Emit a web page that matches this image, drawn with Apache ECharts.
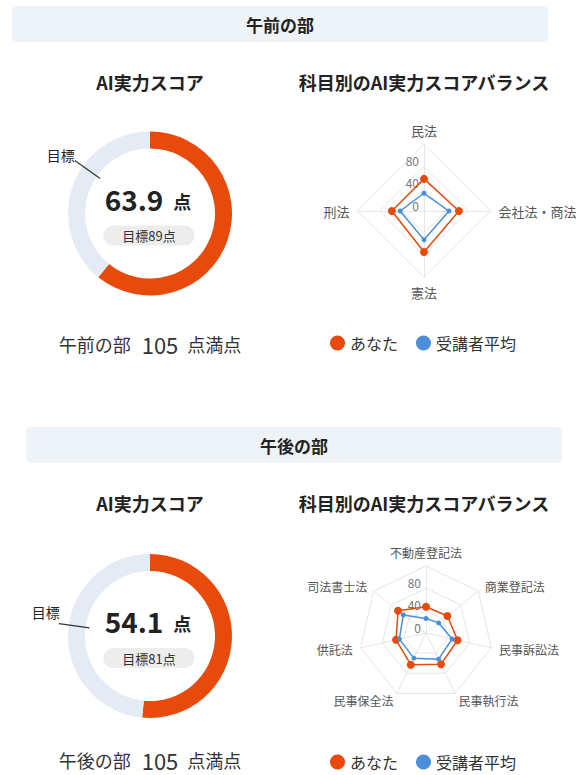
<!DOCTYPE html>
<html><head><meta charset="utf-8">
<script src="https://cdn.jsdelivr.net/npm/echarts@6/dist/echarts.min.js"></script>
<style>html,body{margin:0;padding:0;background:#fff}#c{width:582px;height:775px}</style>
</head><body><div id="c"></div>
<script>
// ---- data ----
const sectionNames = ['午前の部', '午後の部'];
const fullMarks = [105, 105];
const scores = [63.9, 54.1];
const targets = [89, 81];
const subjectsAM = ['民法', '会社法・商法', '憲法', '刑法'];
const youAM = [58, 63, 74, 58];
const avgAM = [32, 45, 52, 43];
const subjectsPM = ['不動産登記法', '商業登記法', '民事訴訟法', '民事執行法', '民事保全法', '供託法', '司法書士法'];
const youPM = [47, 49, 58, 62, 63, 55, 64];
const avgPM = [26, 29, 48, 52, 50, 49, 52];
const radarMax = 120;
const seriesNames = ['あなた', '受講者平均'];
const scoreTitle = 'AI実力スコア';
const radarTitle = '科目別のAI実力スコアバランス';
const targetLabel = '目標';

// ---- style / layout ----
const FONT = '"Noto Sans CJK JP", "Noto Sans", sans-serif';
const ORANGE = '#e84a0c', BLUE = '#4a8fd8', RING = '#e4ebf4';
const layout = [
  { hx: 12, hy: 6, hh: 36, gauge: [150, 213.5], titleY: 82, bottomY: 344, radar: [424, 211], radarR: 66.5, legendTop: 330, tOff: [0, 1] },
  { hx: 26, hy: 427, hh: 36, gauge: [150, 636], titleY: 503, bottomY: 760, radar: [426, 633], radarR: 67, legendTop: 749, tOff: [1, -5] }
];
const ccw = a => [a[0]].concat(a.slice(1).reverse());

const chart = echarts.init(document.getElementById('c'), null, { renderer: 'svg', width: 582, height: 775 });

const graphic = [];
const series = [];
const polar = [], angleAxis = [], radiusAxis = [], radar = [], legend = [];
const radarSets = [[subjectsAM, youAM, avgAM], [subjectsPM, youPM, avgPM]];

layout.forEach((L, i) => {
  graphic.push({ type: 'rect', shape: { x: L.hx, y: L.hy, width: 536, height: L.hh, r: 5 }, style: { fill: '#eef3f8' }, silent: true });
  graphic.push({ type: 'text', x: L.hx + 268, y: L.hy + L.hh / 2, style: { text: sectionNames[i], fill: '#222', fontSize: 17, fontWeight: 'bold', fontFamily: FONT, align: 'center', verticalAlign: 'middle' } });
  graphic.push({ type: 'text', x: 150, y: L.titleY, style: { text: scoreTitle, fill: '#222', fontSize: 18, fontWeight: 'bold', fontFamily: FONT, align: 'center', verticalAlign: 'middle' } });
  graphic.push({ type: 'text', x: 424, y: L.titleY, style: { text: radarTitle, fill: '#222', fontSize: 18, fontWeight: 'bold', fontFamily: FONT, align: 'center', verticalAlign: 'middle' } });
  // center score
  graphic.push({ type: 'text', x: 148, y: L.gauge[1] - 15, z: 10, style: {
    text: '{a|' + scores[i].toFixed(1) + '}{b|点}', align: 'center', verticalAlign: 'middle',
    rich: { a: { fontSize: 28, fontWeight: 'bold', fontFamily: FONT, fill: '#222' }, b: { fontSize: 18, fontWeight: 'bold', fontFamily: FONT, fill: '#222', padding: [4, 0, 0, 10] } } } });
  graphic.push({ type: 'text', x: 149, y: L.gauge[1] + 22, z: 10, style: {
    text: targetLabel + targets[i] + '点', fill: '#333', fontSize: 13, fontFamily: FONT, align: 'center', verticalAlign: 'middle',
    backgroundColor: '#ededed', borderRadius: 11, padding: [4, 19, 3, 19] } });
  // bottom text
  graphic.push({ type: 'text', x: 150, y: L.bottomY, style: {
    text: '{a|' + sectionNames[i] + '}{b|' + fullMarks[i] + '}{a|点満点}', align: 'center', verticalAlign: 'middle',
    rich: { a: { fontSize: 18, lineHeight: 20, fontFamily: FONT, fill: '#333' }, b: { fontSize: 22, lineHeight: 20, fontFamily: FONT, fill: '#333', padding: [0, 9, 0, 11] } } } });

  // donut
  series.push({ type: 'pie', center: L.gauge, radius: [65, 82], startAngle: 90, clockwise: true, silent: true, animation: false,
    label: { show: false }, labelLine: { show: false }, emphasis: { disabled: true },
    itemStyle: { borderWidth: 0 },
    data: [{ value: scores[i], itemStyle: { color: ORANGE } }, { value: fullMarks[i] - scores[i], itemStyle: { color: RING } }] });

  // target marker in polar coords
  polar.push({ center: L.gauge, radius: 100 });
  angleAxis.push({ polarIndex: i, type: 'value', min: 0, max: fullMarks[i], startAngle: 90, clockwise: true, show: false });
  radiusAxis.push({ polarIndex: i, type: 'value', min: 0, max: 100, show: false });
  series.push({ type: 'line', coordinateSystem: 'polar', polarIndex: i, silent: true, animation: false, z: 5,
    symbol: 'circle', symbolSize: 1, itemStyle: { color: 'rgba(0,0,0,0)' },
    lineStyle: { color: '#333', width: 1.2 },
    data: [[61, targets[i]], { value: [92, targets[i]], label: { show: true, formatter: targetLabel, position: 'inside', align: 'right', verticalAlign: 'bottom', offset: L.tOff, color: '#222', fontSize: 14, fontFamily: FONT } }] });

  // radar
  const [subs, you, avg] = radarSets[i];
  const ind = ccw(subs).map((n, k) => {
    const o = { name: n, min: 0, max: radarMax };
    if (k === 0) o.axisLabel = { show: true, color: '#777', fontSize: 12, fontFamily: FONT, margin: 5, verticalAlign: 'bottom', showMaxLabel: false, formatter: v => (v >= radarMax ? '' : v) };
    return o;
  });
  radar.push({ center: L.radar, radius: L.radarR, startAngle: 90, splitNumber: 3, shape: 'polygon', indicator: ind,
    nameGap: 8, axisName: { color: '#555', fontSize: i === 0 ? 13 : 12, fontFamily: FONT },
    splitLine: { lineStyle: { color: '#e6e6e6' } }, splitArea: { show: false }, axisLine: { lineStyle: { color: '#e6e6e6' } } });
  series.push({ type: 'radar', radarIndex: i, silent: true, animation: false, z: 3,
    data: [
      { name: seriesNames[0], value: ccw(you), symbol: 'circle', symbolSize: 8, itemStyle: { color: ORANGE }, lineStyle: { color: ORANGE, width: 1.5 } },
      { name: seriesNames[1], value: ccw(avg), symbol: 'circle', symbolSize: 5, itemStyle: { color: BLUE }, lineStyle: { color: BLUE, width: 1.5 } }
    ] });
  legend.push({ top: L.legendTop, left: 325, data: seriesNames, icon: 'circle', itemWidth: 15, itemHeight: 15, itemGap: 18,
    selectedMode: false, textStyle: { fontSize: 16, color: '#333', fontFamily: FONT } });
});

chart.setOption({ animation: false, graphic, polar, angleAxis, radiusAxis, radar, legend, series });
</script>
</body></html>
